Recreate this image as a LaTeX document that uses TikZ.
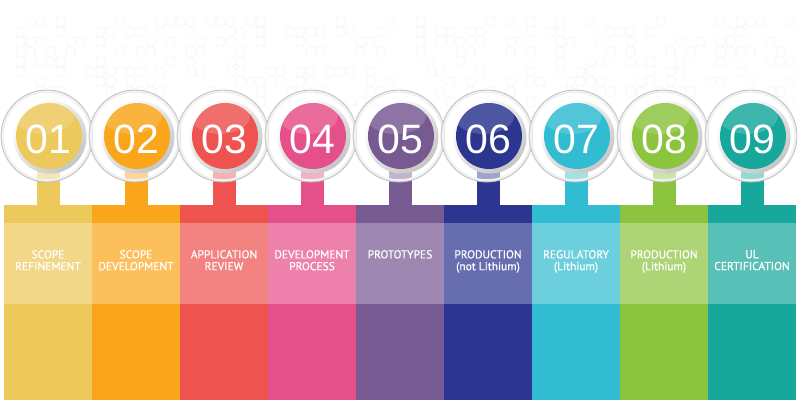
\documentclass[tikz,border=0pt]{standalone}
\usepackage{fontspec}
\newfontfamily\labfont[FakeBold=0.7]{PT Sans}
\newfontfamily\numfont{Liberation Sans}
\definecolor{cA}{HTML}{EDC85B}
\definecolor{cB}{HTML}{F9A61B}
\definecolor{cC}{HTML}{EE534F}
\definecolor{cD}{HTML}{E6508A}
\definecolor{cE}{HTML}{785A93}
\definecolor{cF}{HTML}{2C3690}
\definecolor{cG}{HTML}{31BCD1}
\definecolor{cH}{HTML}{8DC43F}
\definecolor{cI}{HTML}{17A79B}
\definecolor{ringgray}{HTML}{BEBEBE}
\definecolor{sqgray}{HTML}{F3F3F3}
\tikzset{
  numtxt/.style={text=white,font=\numfont\fontsize{41}{41}\selectfont,inner sep=0pt},
  labtxt/.style={text=white,font=\labfont\fontsize{11.5}{11.8}\selectfont,align=center,inner sep=0pt,anchor=north},
  bgsq/.style={draw=sqgray,line width=0.5pt,rounded corners=1.8pt},
}
\begin{document}
\begin{tikzpicture}[x=1pt,y=-1pt]
\useasboundingbox (0,0) rectangle (800,400);
\fill[white] (0,0) rectangle (800,400);
% faint background squares
\pgfmathsetseed{7}
\foreach \r in {0,...,8}{
  \foreach \c in {0,...,77}{
    \pgfmathsetmacro{\sx}{16+10*\c}
    \pgfmathsetmacro{\sy}{17+10*\r}
    \pgfmathsetmacro{\rv}{rnd}
    \ifdim\rv pt<0.36pt
      \ifdim\sx pt<392pt
        \draw[bgsq] (\sx,\sy) rectangle ++(9,9);
      \else\ifdim\sx pt>415pt
        \draw[bgsq] (\sx,\sy) rectangle ++(9,9);
      \fi\fi
    \fi
  }
}
% columns
\foreach \i/\c in {0/cA,1/cB,2/cC,3/cD,4/cE,5/cF,6/cG,7/cH,8/cI}{
  \pgfmathsetmacro{\xl}{4+88*\i}
  \pgfmathsetmacro{\cx}{48+88*\i}
  \fill[\c] (\xl,205) rectangle ++(88,195);
  \fill[\c!72!white] (\xl,223) rectangle ++(88,81);
  \fill[\c] (\cx-11.5,165) rectangle (\cx+11.5,206);
}
% circles
\foreach \i/\c/\n in {0/cA/01,1/cB/02,2/cC/03,3/cD/04,4/cE/05,5/cF/06,6/cG/07,7/cH/08,8/cI/09}{
  \pgfmathsetmacro{\cx}{48+88*\i}
  \fill[white,opacity=0.55] (\cx-1,136) circle (46);
  \draw[gray!12,line width=2.5pt] (\cx-1,136) circle (44.5);
  \draw[ringgray,line width=0.8pt] (\cx-1,136) circle (46);
  \shade[top color=white,bottom color=gray!45,shading angle=40] (\cx+2,137) circle (36.5);
  \fill[\c] (\cx+1,136) circle (33);
  \begin{scope}
    \clip (\cx+1,136) circle (33);
    \fill[white,opacity=0.16] (\cx-4,116) ellipse (30 and 18);
  \end{scope}
  \node[numtxt] (n\n) at (\cx+0.5,139.5) {\n};
}
% labels
\node[labtxt] (l1) at (48,250) {SCOPE\\REFINEMENT};
\node[labtxt] (l2) at (136,250) {SCOPE\\DEVELOPMENT};
\node[labtxt] (l3) at (224,250) {APPLICATION\\REVIEW};
\node[labtxt] (l4) at (312,250) {DEVELOPMENT\\PROCESS};
\node[labtxt] (l5) at (400,250) {PROTOTYPES};
\node[labtxt] (l6) at (488,250) {PRODUCTION\\(not Lithium)};
\node[labtxt] (l7) at (576,250) {REGULATORY\\(Lithium)};
\node[labtxt] (l8) at (664,250) {PRODUCTION\\(Lithium)};
\node[labtxt] (l9) at (752,250) {UL\\CERTIFICATION};
\end{tikzpicture}
\end{document}
